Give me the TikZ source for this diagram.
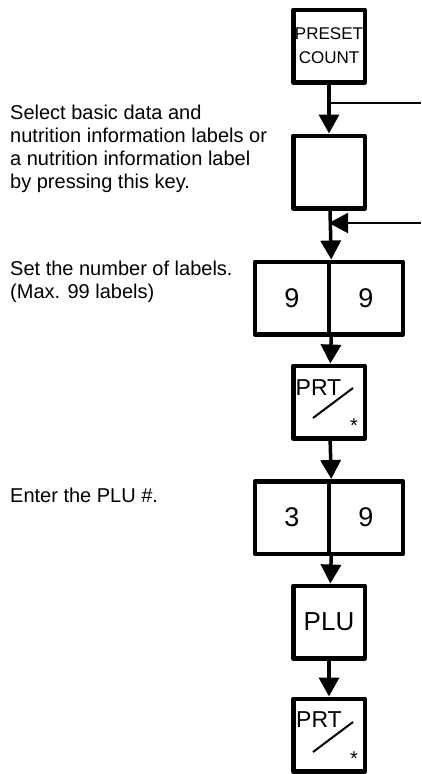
\documentclass[tikz,border=0pt]{standalone}
\usepackage{fontspec}
\setmainfont{Liberation Sans}
\usepackage{tikz}
\usetikzlibrary{positioning, arrows.meta}

\begin{document}
\begin{tikzpicture}[x=1pt, y=-1pt, >={Triangle[length=19pt, width=20pt]},
                    keybox/.style={draw, line width=4.5pt, line join=round, minimum width=71.5pt, minimum height=72.5pt, inner sep=0pt},
                    halfbox/.style={keybox, minimum width=74pt, font=\fontsize{27}{30}\selectfont},
                    flow/.style={line width=3.5pt},
                    feed/.style={line width=2pt},
                    note/.style={anchor=north west, align=left, inner sep=0pt, font=\fontsize{20}{23}\selectfont},
                    keytext/.style={anchor=base west, inner sep=0pt, font=\fontsize{23}{26}\selectfont},
                    slash/.style={line width=2pt},
                    star/.style={inner sep=0pt, font=\fontsize{20}{22}\selectfont}]
    \useasboundingbox (0,0) rectangle (421,774);

    % Keys down the right column
    \node[keybox, align=center, font=\fontsize{17}{24}\selectfont] (preset) at (329, 46) {PRESET\\COUNT};
    \node[keybox] (sel) at (329, 172) {};
    \node[halfbox] (nineA) at (292, 298) {9};
    \node[halfbox] (nineB) at (366, 298) {9};
    \node[keybox] (prtA) at (329, 402) {};
    \node[halfbox] (three) at (292, 517.5) {3};
    \node[halfbox] (nineC) at (366, 517.5) {9};
    \node[keybox, font=\fontsize{26}{30}\selectfont] (plu) at (329, 622) {PLU};
    \node[keybox] (prtB) at (329, 735) {};

    % PRT key faces
    \node[keytext] (prtAt) at ([shift={(-33.5,-7)}]prtA.center) {PRT};
    \draw[slash] ([shift={(-16,16)}]prtA.center) -- ([shift={(24,-14)}]prtA.center);
    \node[star] (prtAs) at ([shift={(25,24)}]prtA.center) {*};
    \node[keytext] (prtBt) at ([shift={(-33,-7.5)}]prtB.center) {PRT};
    \draw[slash] ([shift={(-16,17)}]prtB.center) -- ([shift={(24,-13)}]prtB.center);
    \node[star] (prtBs) at ([shift={(25,24)}]prtB.center) {*};

    % Notes on the left
    \node[note] (selnote) at (10, 104.5) {Select basic data and\\nutrition information labels or\\a nutrition information label\\by pressing this key.};
    \node[note] (setnote) at (10, 261) {Set the number of labels.\\(Max. 99 labels)};
    \node[note] (plunote) at (10, 487.5) {Enter the PLU \#.};

    % Flow
    \path[flow, ->]
    (preset) edge (sel)
    (sel) edge (nineA.north east)
    (nineA.south east) edge (prtA)
    (prtA) edge (three.north east)
    (three.south east) edge (plu)
    (plu) edge (prtB);

    % Lines coming in from the right
    \coordinate (inA) at (421, 103);
    \coordinate (inB) at (421, 223);
    \draw[feed] (inA) -- (preset |- inA);
    \draw[feed, ->] (inB) -- (sel |- inB);
\end{tikzpicture}
\end{document}
